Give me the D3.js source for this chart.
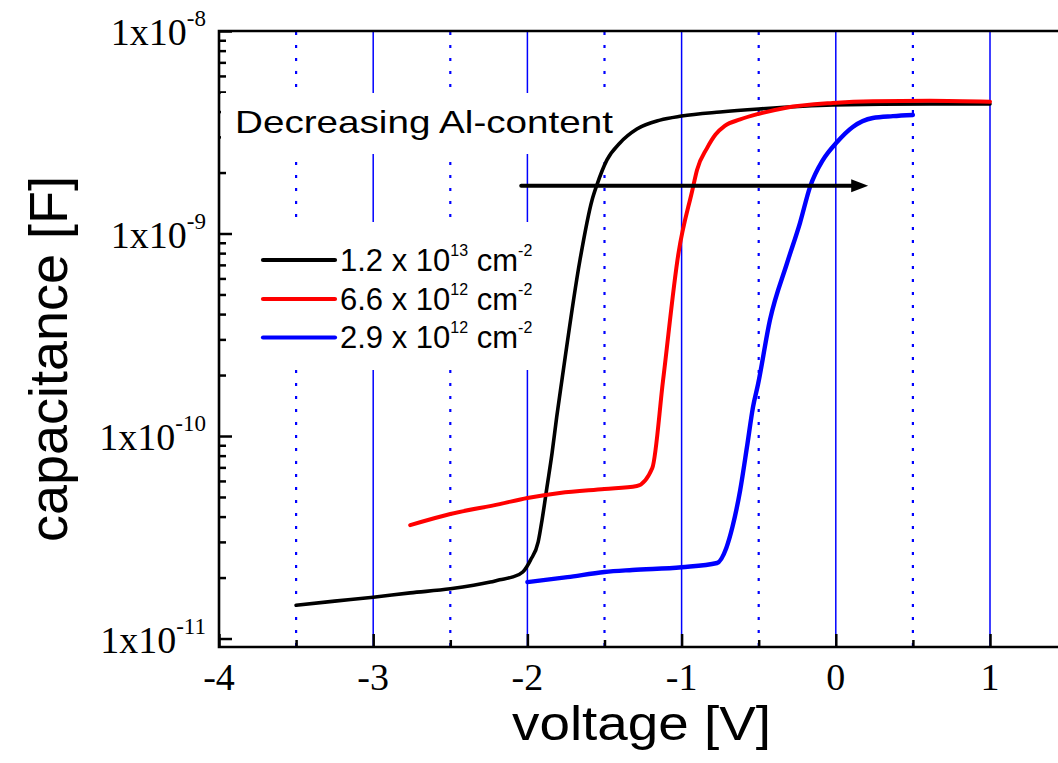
<!DOCTYPE html>
<html><head><meta charset="utf-8">
<script src="https://cdn.jsdelivr.net/npm/d3@7"></script>
<style>html,body{margin:0;padding:0;background:#fff;overflow:hidden}</style>
</head><body><svg id="c" width="1058" height="763"></svg>
<script>
// ---- data ----
const voltageTicks = [-4, -3, -2, -1, 0, 1];
const voltageMinor = [-3.5, -2.5, -1.5, -0.5, 0.5, 1.5];
const solidGrid = [-3, -2, -1, 0, 1];
const dottedGrid = [-3.5, -2.5, -1.5, -0.5, 0.5, 1.5];
const capTicks = [1e-11, 1e-10, 1e-9, 1e-8];
const capTickExp = ["-11", "-10", "-9", "-8"];
const capMinor = [2,3,4,5,6,7,8,9].flatMap(m => [1e-11, 1e-10, 1e-9].map(d => m * d));

const seriesBase = ["1.2 x 10", "6.6 x 10", "2.9 x 10"];
const seriesExp = ["13", "12", "12"];
const seriesColors = ["#000000", "#ff0000", "#0000ff"];

const blackV = [-3.50,-3.25,-3.00,-2.76,-2.50,-2.24,-2.18,-2.10,-2.03,-1.98,-1.93,-1.905,-1.873,-1.84,-1.81,-1.776,-1.659,-1.581,-1.549,-1.484,-1.40,-1.29,-1.14,-1.00,-0.75,-0.50,-0.02,0.61,1.00];
const blackC = [1.46e-11,1.53e-11,1.60e-11,1.68e-11,1.76e-11,1.90e-11,1.95e-11,2.01e-11,2.13e-11,2.44e-11,3.0e-11,3.85e-11,5.6e-11,8.24e-11,1.24e-10,1.89e-10,7.40e-10,1.46e-9,1.74e-9,2.31e-9,2.80e-9,3.28e-9,3.63e-9,3.80e-9,3.98e-9,4.12e-9,4.31e-9,4.36e-9,4.36e-9];

const redV = [-2.76,-2.50,-2.18,-2.00,-1.79,-1.50,-1.29,-1.19,-1.12,-1.02,-0.93,-0.90,-0.835,-0.78,-0.72,-0.62,-0.505,-0.33,-0.02,0.24,0.61,1.00];
const redC = [3.63e-11,4.12e-11,4.61e-11,4.94e-11,5.23e-11,5.47e-11,5.66e-11,6.95e-11,1.89e-10,8.01e-10,1.64e-9,2.06e-9,2.64e-9,3.08e-9,3.40e-9,3.66e-9,3.89e-9,4.17e-9,4.41e-9,4.50e-9,4.52e-9,4.47e-9];

const blueV = [-2.00,-1.74,-1.50,-1.32,-1.00,-0.77,-0.71,-0.67,-0.62,-0.576,-0.537,-0.505,-0.427,-0.316,-0.232,-0.167,-0.083,0.008,0.11,0.24,0.37,0.50];
const blueC = [1.90e-11,2.01e-11,2.13e-11,2.18e-11,2.25e-11,2.36e-11,2.80e-11,3.56e-11,5.41e-11,8.83e-11,1.39e-10,1.79e-10,3.74e-10,7.15e-10,1.13e-9,1.70e-9,2.31e-9,2.83e-9,3.36e-9,3.72e-9,3.80e-9,3.85e-9];

const arrowV = [-2.04, 0.21];
const arrowC = 1.72e-9;

// ---- layout ----
const X0 = 219, X1 = 219 + 5.5 * 154.2, Y0 = 31, Y1 = 647;
const x = d3.scaleLinear().domain([-4, 1.5]).range([X0, X1]);
const y = d3.scaleLog().domain([9.08e-12, 1e-8]).range([Y1, Y0]);

const svg = d3.select("#c");
const serif = "'Liberation Serif','Times New Roman',serif";
const sans = "'Liberation Sans',Arial,sans-serif";

// gridlines
svg.append("g").selectAll("line").data(solidGrid).join("line")
  .attr("x1", d => x(d)).attr("x2", d => x(d)).attr("y1", Y0).attr("y2", Y1)
  .attr("stroke", "#0000ff").attr("stroke-width", 1.5);
svg.append("g").selectAll("line").data(dottedGrid).join("line")
  .attr("x1", d => x(d)).attr("x2", d => x(d)).attr("y1", Y0 + 1).attr("y2", Y1)
  .attr("stroke", "#0000ff").attr("stroke-width", 2.2).attr("stroke-dasharray", "3,10");

// ticks (inward)
function styleAxis(g) {
  g.select(".domain").remove();
  g.selectAll(".tick line").attr("stroke", "#000").attr("stroke-width", 2.5);
  g.selectAll(".tick text").remove();
}
svg.append("g").attr("transform", `translate(0,${Y1})`)
  .call(d3.axisBottom(x).tickValues(voltageTicks).tickSize(-13).tickFormat(""))
  .call(styleAxis);
svg.append("g").attr("transform", `translate(0,${Y1})`)
  .call(d3.axisBottom(x).tickValues(voltageMinor).tickSize(-7).tickFormat(""))
  .call(styleAxis);
svg.append("g").attr("transform", `translate(${X0},0)`)
  .call(d3.axisLeft(y).tickValues(capTicks).tickSize(-13).tickFormat(""))
  .call(styleAxis);
svg.append("g").attr("transform", `translate(${X0},0)`)
  .call(d3.axisLeft(y).tickValues(capMinor).tickSize(-7).tickFormat(""))
  .call(styleAxis);

// white boxes behind annotation and legend
svg.append("rect").attr("x", 221).attr("y", 93).attr("width", 396).attr("height", 61).attr("fill", "#fff");
svg.append("rect").attr("x", 245).attr("y", 222).attr("width", 300).attr("height", 148).attr("fill", "#fff");

// curves
const series = [
  {v: blackV, c: blackC, w: 3.6},
  {v: redV, c: redC, w: 4},
  {v: blueV, c: blueC, w: 4.4}
];
const line = d3.line().x(d => x(d[0])).y(d => y(d[1])).curve(d3.curveMonotoneX);
series.forEach((s, i) => {
  svg.append("path").datum(s.v.map((v, k) => [v, s.c[k]]))
    .attr("d", line).attr("fill", "none").attr("stroke", seriesColors[i])
    .attr("stroke-width", s.w).attr("stroke-linejoin", "round").attr("stroke-linecap", "round");
});

// frame
svg.append("path").attr("d", `M${X0},${Y0}V${Y1}H${X1}V${Y0}Z`)
  .attr("fill", "none").attr("stroke", "#000").attr("stroke-width", 2.6);

// arrow
const ax0 = x(arrowV[0]), ax1 = x(arrowV[1]), ay = y(arrowC);
svg.append("line").attr("x1", ax0).attr("x2", ax1 - 12).attr("y1", ay).attr("y2", ay)
  .attr("stroke", "#000").attr("stroke-width", 4).attr("stroke-linecap", "round");
svg.append("path").attr("d", `M${ax1},${ay}L${ax1 - 17},${ay - 6.5}L${ax1 - 17},${ay + 6.5}Z`).attr("fill", "#000");

// annotation
svg.append("text").attr("x", 235).attr("y", 133)
  .attr("textLength", 378).attr("lengthAdjust", "spacingAndGlyphs")
  .style("font-family", sans).style("font-size", "32px").text("Decreasing Al-content");

// legend
const legY = [260, 299, 337.5];
seriesBase.forEach((b, i) => {
  svg.append("line").attr("x1", 263).attr("x2", 335).attr("y1", legY[i]).attr("y2", legY[i])
    .attr("stroke", seriesColors[i]).attr("stroke-width", 4.2).attr("stroke-linecap", "round");
  const t = svg.append("text").attr("x", 340).attr("y", legY[i] + 10.5)
    .style("font-family", sans).style("font-size", "31px");
  t.append("tspan").text(b);
  t.append("tspan").attr("dy", -15).style("font-size", "16px").text(seriesExp[i]);
  t.append("tspan").attr("dy", 15).text(" cm");
  t.append("tspan").attr("dy", -15).style("font-size", "16px").text("-2");
});

// y tick labels
capTicks.forEach((c, i) => {
  const t = svg.append("text").attr("x", 206).attr("y", y(c) + 14).attr("text-anchor", "end")
    .style("font-family", serif).style("font-size", "38px");
  t.append("tspan").text("1x10");
  t.append("tspan").attr("dy", -19).style("font-size", "23px").text(capTickExp[i]);
});

// x tick labels
svg.append("g").selectAll("text").data(voltageTicks).join("text")
  .attr("x", d => x(d)).attr("y", 690).attr("text-anchor", "middle")
  .style("font-family", serif).style("font-size", "38px").text(d => d);

// axis titles
svg.append("text").attr("x", 512).attr("y", 740)
  .attr("textLength", 259).attr("lengthAdjust", "spacingAndGlyphs")
  .style("font-family", sans).style("font-size", "48px").text("voltage [V]");
svg.append("text").attr("transform", "translate(67,359) rotate(-90)").attr("text-anchor", "middle")
  .style("font-family", sans).style("font-size", "54px").text("capacitance [F]");
</script></body></html>
